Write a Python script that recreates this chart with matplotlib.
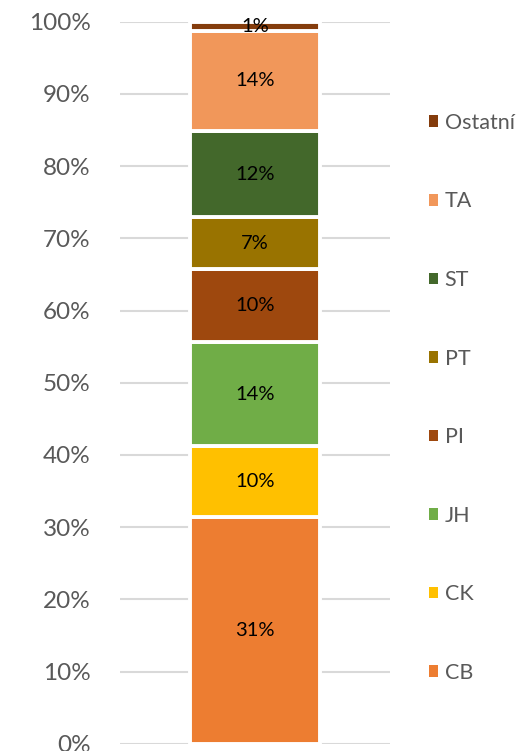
import matplotlib
matplotlib.use("Agg")
import matplotlib.pyplot as plt
from matplotlib.patches import Patch

plt.rcParams["font.family"] = ["Lato", "DejaVu Sans"]

categories = ["CB", "CK", "JH", "PI", "PT", "ST", "TA", "Ostatní"]
values = [31.4, 9.8, 14.4, 10.15, 7.2, 11.9, 13.9, 1.25]
labels = ["31%", "10%", "14%", "10%", "7%", "12%", "14%", "1%"]
colors = ["#ED7D31", "#FFC000", "#70AD47", "#9E480E", "#997300", "#43682B", "#F1975A", "#843C0C"]
yticks = [0, 10, 20, 30, 40, 50, 60, 70, 80, 90, 100]
ytick_labels = [f"{t}%" for t in yticks]

fig = plt.figure(figsize=(5.2, 7.51), dpi=100)
ax = fig.add_axes([0.2308, 0.0097, 0.519, 0.9613])

bottom = 0
for cat, v, lab, c in zip(categories, values, labels, colors):
    ax.bar(0, v, bottom=bottom, width=0.485, color=c, edgecolor="white",
           linewidth=2.8, zorder=3, label=cat)
    ax.text(0, bottom + v / 2, lab, ha="center", va="center", fontsize=14.5,
            color="black", zorder=4)
    bottom += v

ax.set_xlim(-0.5, 0.5)
ax.set_ylim(0, 100)
ax.set_yticks(yticks)
ax.set_yticklabels(ytick_labels, fontsize=17.5, color="#595959")
ax.tick_params(axis="y", length=0, pad=21)
ax.set_xticks([])
ax.yaxis.grid(True, color="#d9d9d9", linewidth=1.5, zorder=0)
for s in ax.spines.values():
    s.set_visible(False)

handles = [Patch(facecolor=c, edgecolor="none") for c in colors][::-1]
leg = fig.legend(handles, categories[::-1], loc="upper left",
                 bbox_to_anchor=(0.787, 0.8755), frameon=False, fontsize=15.5,
                 labelcolor="#595959", handlelength=0.45, handleheight=0.45,
                 handletextpad=0.3, labelspacing=2.72)

fig.savefig("out.png", dpi=100)
